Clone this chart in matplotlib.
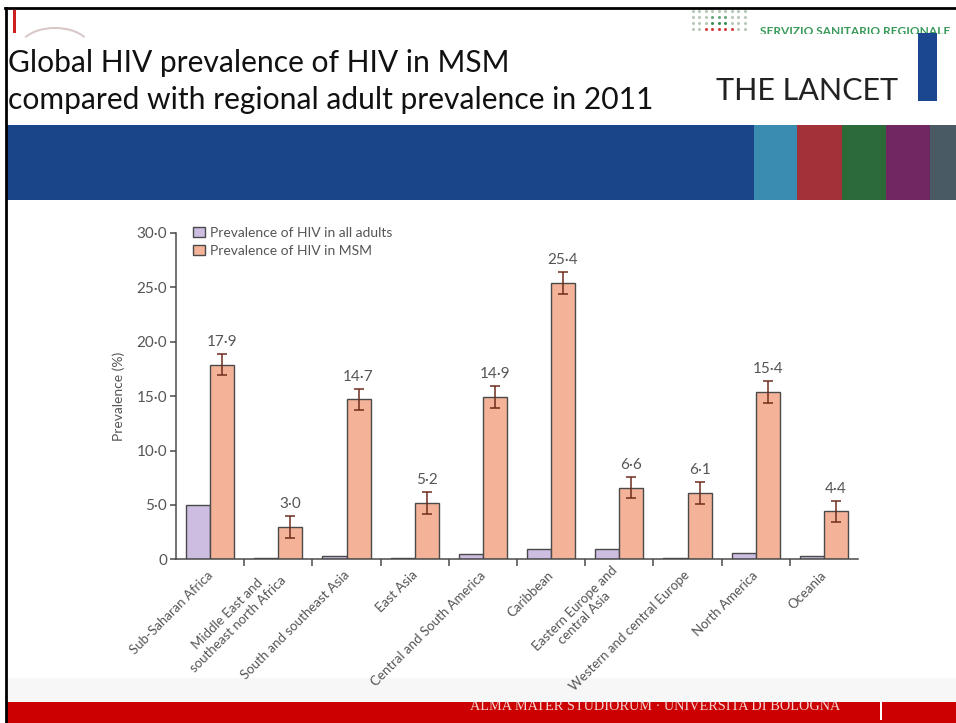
import matplotlib
matplotlib.use("Agg")
import matplotlib.pyplot as plt
from matplotlib.patches import Rectangle, Arc
from matplotlib.transforms import ScaledTranslation

# Chart data
regions = [
    "Sub-Saharan Africa",
    "Middle East and\nsoutheast north Africa",
    "South and southeast Asia",
    "East Asia",
    "Central and South America",
    "Caribbean",
    "Eastern Europe and\ncentral Asia",
    "Western and central Europe",
    "North America",
    "Oceania",
]
adult_prev = [5.0, 0.15, 0.3, 0.1, 0.45, 0.95, 0.95, 0.15, 0.6, 0.3]
msm_prev = [17.9, 3.0, 14.7, 5.2, 14.9, 25.4, 6.6, 6.1, 15.4, 4.4]
msm_err = [1.0, 1.0, 1.0, 1.0, 1.0, 1.0, 1.0, 1.0, 1.0, 1.0]
yticks = [0, 5, 10, 15, 20, 25, 30]
ytick_labels = ["0", "5·0", "10·0", "15·0", "20·0", "25·0", "30·0"]
series_names = ["Prevalence of HIV in all adults", "Prevalence of HIV in MSM"]

W, H = 956, 723
plt.rcParams["font.family"] = ["Lato", "DejaVu Sans"]

fig = plt.figure(figsize=(W / 100, H / 100), dpi=100)
fig.patch.set_facecolor("white")

# Slide background, drawn in pixel coordinates
bg = fig.add_axes([0, 0, 1, 1])
bg.set_xlim(0, W)
bg.set_ylim(H, 0)
bg.set_axis_off()


def box(x0, y0, x1, y1, colour, z=1):
    bg.add_patch(Rectangle((x0, y0), x1 - x0, y1 - y0, facecolor=colour,
                           edgecolor="none", zorder=z))


# header logos
bg.text(760, 31.5, "SERVIZIO SANITARIO REGIONALE", color="#3a9a5a", fontsize=8.6,
        fontweight="bold", ha="left", va="center", zorder=2)
box(680, 34, W, 60, "white", z=3)
dot_cols = ["#b8c8b8", "#b8c8b8", "#7fb48f", "#e06060"]
for r, yy in enumerate([11, 17, 23, 29]):
    for c in range(9):
        col = dot_cols[0]
        if r == 1 and 3 <= c <= 5:
            col = "#6aa87a"
        if r == 2 and 3 <= c <= 5:
            col = "#3a8f55"
        if r == 3 and 2 <= c <= 6:
            col = "#d83a3a"
        bg.plot(693 + c * 6.5, yy, "o", ms=2.2, color=col, mec="none", zorder=2)
bg.add_patch(Arc((55, 48), 70, 40, theta1=200, theta2=340, color="#d8c8c8",
                 lw=1.5, zorder=2))
box(13, 10, 16.5, 33, "#cc1f1f", z=4)

# title
bg.text(8, 72, "Global HIV prevalence of HIV in MSM", fontsize=21.6,
        color="#111111", va="baseline", ha="left", zorder=5)
bg.text(8, 109, "compared with regional adult prevalence in 2011", fontsize=21.6,
        color="#111111", va="baseline", ha="left", zorder=5)
bg.text(716, 100, "THE LANCET", fontsize=22, color="#222222", va="baseline",
        ha="left", zorder=5)
box(918, 33, 937, 101, "#1b4690", z=5)

# colour band
box(6, 125, 754, 200, "#1a4589")
band_cols = ["#3a8db0", "#a3313a", "#2d6a3a", "#6f2862", "#4a5a64"]
band_x = [754, 797, 842, 886, 930, W]
for i, col in enumerate(band_cols):
    box(band_x[i], 125, band_x[i + 1], 200, col)

# footer
bg.text(655, 706, "ALMA MATER STUDIORUM · UNIVERSITA DI BOLOGNA", fontsize=10.3,
        family=["Liberation Serif", "DejaVu Serif"], color="#f3d2d2",
        ha="center", va="center", zorder=2)
box(6, 678, W, 702, "#f7f7f7", z=3)
box(6, 702, W, H, "#cc0000", z=1)
box(880, 702, 882.5, 720, "white", z=4)

# frame lines
bg.plot([5, W], [8, 8], color="black", lw=2, zorder=6)
bg.plot([6, 6], [8, H], color="black", lw=2, zorder=6)

# ---- the chart ----
x0, x1, ytop, ybot = 176, 858, 233, 559.3
ax = fig.add_axes([x0 / W, (H - ybot) / H, (x1 - x0) / W, (ybot - ytop) / H])
ax.set_facecolor("none")
ax.set_xlim(-0.5, len(regions) - 0.5)
ax.set_ylim(0, 30)

grey = "#4a4a4a"
txt = "#555555"
purple = "#cdbde0"
orange = "#f4b398"
bw = 0.352
xs = list(range(len(regions)))

ax.bar([x - bw / 2 for x in xs], adult_prev, width=bw, color=purple,
       edgecolor=grey, linewidth=1.0, label=series_names[0], zorder=2)
ax.bar([x + bw / 2 for x in xs], msm_prev, width=bw, color=orange,
       edgecolor=grey, linewidth=1.0, label=series_names[1], zorder=2)
ax.errorbar([x + bw / 2 for x in xs], msm_prev, yerr=msm_err, fmt="none",
            ecolor="#6e2c1c", elinewidth=1.1, capsize=3.4, capthick=1.1, zorder=3)
for x, v, e in zip(xs, msm_prev, msm_err):
    ax.annotate(("%.1f" % v).replace(".", "·"), (x + bw / 2, v + e),
                xytext=(0, 3.5), textcoords="offset points", ha="center",
                va="bottom", fontsize=11, color=txt)

for side in ["top", "right"]:
    ax.spines[side].set_visible(False)
for side in ["left", "bottom"]:
    ax.spines[side].set_color(grey)
    ax.spines[side].set_linewidth(1.1)

ax.set_yticks(yticks)
ax.set_yticklabels(ytick_labels, fontsize=11, color=txt)
ax.tick_params(axis="y", length=4, width=1.1, color=grey, pad=2.5)

# ticks between groups, labels under group centres
ax.set_xticks([x + 0.5 for x in xs[:-1]])
ax.set_xticklabels([])
ax.tick_params(axis="x", which="major", length=5, width=1.1, color=grey)
ax.set_xticks(xs, minor=True)
ax.set_xticklabels(regions, minor=True, rotation=45, ha="right", va="center",
                   rotation_mode="anchor", fontsize=9.5, color=txt,
                   multialignment="center")
ax.tick_params(axis="x", which="minor", length=0, pad=10)
shift = ScaledTranslation(0.5 / 100, 0, fig.dpi_scale_trans)
for lab in ax.get_xticklabels(minor=True):
    lab.set_transform(lab.get_transform() + shift)

ax.set_ylabel("Prevalence (%)", fontsize=10, color=txt, labelpad=8)

ax.legend(loc="upper left", bbox_to_anchor=(193 / W, 1 - 227 / H),
          bbox_transform=fig.transFigure, frameon=False, fontsize=10,
          handlelength=0.85, handleheight=0.7, handletextpad=0.35,
          labelspacing=0.4, borderpad=0, borderaxespad=0, labelcolor=txt)

fig.savefig("out.png", dpi=100)
